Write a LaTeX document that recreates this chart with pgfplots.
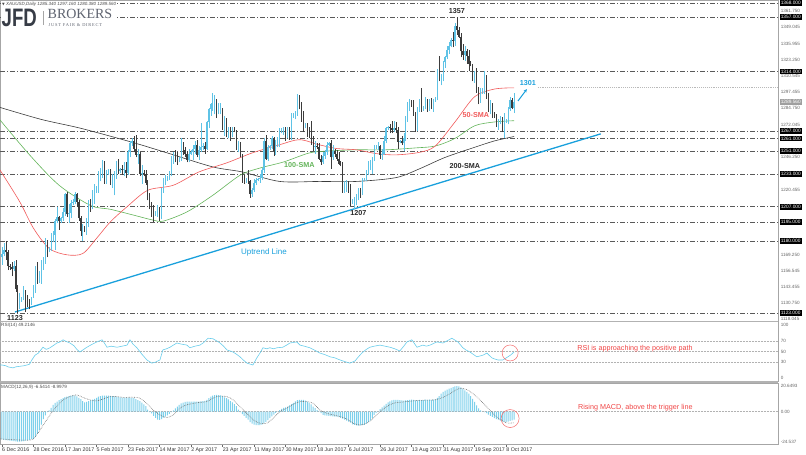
\documentclass[border=0pt]{standalone}
\usepackage{pgfplots}
\pgfplotsset{compat=1.18}
\usepackage{pgfplotstable}
\usepackage{fontspec}
\setmainfont{Liberation Sans}
\newfontfamily\serifb{Liberation Serif}
\newfontfamily\serifls[LetterSpace=18]{Liberation Serif}
\newfontfamily\dejavu{DejaVu Sans}
\usetikzlibrary{arrows.meta}
\definecolor{upc}{RGB}{95,195,230}
\definecolor{dnc}{RGB}{60,60,60}
\definecolor{trendc}{RGB}{25,160,220}
\definecolor{ma50}{RGB}{240,90,90}
\definecolor{ma100}{RGB}{100,180,90}
\definecolor{ma200}{RGB}{60,60,60}
\definecolor{annred}{RGB}{240,70,70}
\definecolor{rsic}{RGB}{105,205,235}
\definecolor{macdc}{RGB}{125,208,235}
\pgfplotsset{
  panel/.style={scale only axis, width=778pt, xmin=-1, xmax=394, clip=false,
    axis line style={draw=gray!70, line width=0.6pt}, xtick=\empty, ytick=\empty,
    anchor=south west},
  lvl/.style={draw=black!65, line width=0.5pt, dash pattern=on 5pt off 2pt on 1pt off 2pt, forget plot},
  gridd/.style={draw=gray!60, line width=0.5pt, densely dotted, forget plot},
}
\tikzset{
  rl/.style={anchor=west, font=\fontsize{4.6}{5}\selectfont, text=black!60, inner sep=0.6pt, xshift=2pt},
  hl/.style={anchor=west, font=\fontsize{4.8}{5}\selectfont, fill=black, text=white, inner sep=1.1pt, xshift=1.5pt},
  ann/.style={font=\bfseries\fontsize{7.2}{8}\selectfont},
}
\pgfplotstableread{
i O H L C
0 1167 1175 1161 1170
1 1170 1178 1168 1173
6 1158 1164 1156 1160
9 1129 1139 1126 1134
10 1134 1136 1132 1135
11 1135 1144 1133 1139
15 1130 1136 1129 1133
16 1138 1145 1135 1141
17 1141 1160 1139 1158
19 1151 1156 1147 1154
20 1154 1165 1146 1160
21 1160 1167 1157 1164
22 1164 1182 1162 1180
24 1172 1175 1171 1174
25 1174 1186 1172 1184
26 1184 1188 1179 1185
27 1185 1197 1173 1196
28 1196 1207 1194 1199
30 1196 1199 1194 1198
31 1198 1206 1196 1203
32 1203 1218 1200 1217
34 1201 1209 1194 1202
35 1202 1212 1198 1210
36 1210 1213 1208 1211
37 1211 1219 1209 1217
41 1188 1193 1180 1190
43 1189 1198 1185 1195
44 1195 1212 1191 1210
46 1208 1220 1205 1219
47 1219 1225 1209 1220
48 1220 1223 1218 1221
49 1221 1235 1218 1232
50 1232 1238 1227 1236
51 1236 1244 1230 1241
53 1228 1236 1225 1234
54 1234 1237 1232 1235
56 1226 1233 1222 1229
57 1229 1235 1216 1232
58 1232 1243 1229 1240
60 1235 1238 1234 1237
62 1236 1242 1231 1236.5
64 1234 1252 1232 1250
65 1250 1259 1246 1257
66 1257 1261 1255 1259
69 1248 1253 1241 1249
71 1233 1240 1225 1234
78 1201 1204 1200 1203
79 1203 1208 1199 1204
81 1199 1222 1197 1220
82 1220 1230 1218 1226
83 1226 1232 1224 1229
84 1229 1231 1227 1230
85 1230 1235 1228 1233
86 1233 1247 1231 1245
87 1245 1250 1241 1248
90 1243 1246 1242 1245
91 1245 1261 1243 1255
95 1244 1253 1242 1249
96 1249 1252 1248 1250
97 1250 1256 1244 1253
98 1253 1259 1249 1256
100 1248 1255 1244 1252
101 1252 1273 1250 1254
102 1254 1257 1252 1255
104 1253 1275 1252 1274
105 1274 1285 1269 1284
106 1284 1289 1279 1288
107 1288 1297 1283 1291
108 1291 1295 1280 1291.5
110 1283 1289 1280 1283.5
111 1283 1289 1280 1285
113 1272 1279 1263 1276
115 1264 1270 1261 1268
117 1264 1270 1262 1268
120 1255 1259 1250 1256
124 1227 1230 1226 1229
127 1217 1222 1215 1220
128 1220 1229 1219 1226
129 1226 1230 1224 1228
130 1228 1230 1227 1229
131 1229 1233 1226 1230
132 1230 1238 1228 1236
133 1236 1261 1234 1259
135 1245 1256 1243 1254
136 1254 1256 1252 1255
137 1255 1263 1253 1261
139 1251 1260 1248 1256
140 1256 1262 1254 1256.5
141 1256 1269 1254 1267
142 1267 1269 1265 1267.5
143 1267 1270 1264 1267.5
145 1262 1270 1261 1268
147 1262 1281 1260 1279
148 1279 1281 1277 1280
149 1280 1283 1276 1280.5
150 1280 1296 1279 1293
154 1271 1273 1269 1272
159 1254 1259 1249 1255
163 1242 1250 1241 1247
164 1247 1252 1245 1250
165 1250 1258 1248 1256
166 1256 1258 1255 1257
168 1246 1256 1244 1251
174 1219 1227 1218 1225
175 1225 1228 1219 1226
178 1210 1213 1209 1211
179 1211 1215 1205 1212
180 1212 1217 1208 1214
181 1214 1222 1212 1219
183 1218 1230 1216 1228
184 1228 1230 1227 1229
185 1229 1236 1227 1234
186 1234 1243 1232 1241
187 1241 1244 1236 1241.5
188 1241 1246 1233 1244
189 1244 1256 1243 1254
190 1254 1256 1253 1255
191 1255 1258 1252 1255.5
193 1248 1253 1244 1249
194 1249 1263 1248 1259
195 1259 1270 1257 1269
196 1269 1271 1268 1270
199 1268 1275 1266 1269
202 1258 1260 1257 1259
204 1257 1265 1251 1261
205 1261 1279 1259 1275
206 1275 1290 1274 1287
207 1287 1292 1283 1289
211 1268 1286 1267 1283
212 1283 1292 1282 1289
214 1284 1287 1283 1286
215 1286 1294 1284 1291
217 1284 1292 1283 1290
219 1287 1292 1282 1291
220 1291 1294 1290 1293
221 1293 1316 1291 1315
223 1309 1312 1303 1309.5
224 1309 1322 1306 1321
225 1321 1326 1317 1325
226 1325 1334 1324 1331
227 1331 1337 1328 1334
228 1334 1340 1333 1339
230 1338 1352 1334 1350
235 1327 1334 1322 1330
240 1309 1314 1305 1311
243 1291 1301 1289 1297
244 1297 1301 1296 1299
245 1299 1314 1296 1310
248 1283 1291 1280 1287
252 1271 1276 1268 1273
253 1273 1279 1272 1276
255 1269 1281 1261 1274
256 1274 1276 1273 1275
257 1275 1286 1272 1284
258 1284 1294 1283 1291
260 1285 1297 1281 1289.6
}\upt
\pgfplotstableread{
i O H L C
2 1173 1180 1165 1171
3 1171 1173 1157 1160
4 1160 1162 1157 1159
5 1159 1163 1152 1158
7 1160 1165 1140 1142
8 1142 1145 1123 1129
12 1139 1141 1124 1133
13 1133 1137 1128 1131
14 1131 1134 1126 1130
18 1158 1163 1146 1151
23 1180 1181 1167 1172
29 1199 1200 1189 1196
33 1217 1219 1199 1201
38 1217 1218 1207 1211
39 1211 1212 1196 1198
40 1198 1200 1184 1188
42 1190 1192 1187 1189
45 1210 1213 1203 1208
52 1241 1243 1225 1228
55 1235 1237 1224 1226
59 1240 1245 1233 1235
61 1237 1240 1232 1236
63 1236 1242 1230 1234
67 1259 1263 1250 1253
68 1253 1264 1246 1248
70 1249 1250 1231 1233
72 1234 1236 1231 1233
73 1233 1236 1224 1226
74 1226 1228 1212 1216
75 1216 1218 1205 1209
76 1209 1211 1199 1203
77 1203 1208 1195 1201
80 1204 1207 1196 1199
88 1248 1252 1242 1247
89 1247 1250 1240 1243
92 1255 1258 1248 1252
93 1252 1254 1246 1249
94 1249 1251 1242 1244
99 1256 1260 1246 1248
103 1255 1258 1249 1253
109 1291 1292 1277 1283
112 1285 1285 1268 1272
114 1276 1277 1262 1264
116 1268 1270 1259 1264
118 1268 1270 1266 1267
119 1267 1268 1252 1255
121 1256 1258 1246 1248
122 1248 1249 1226 1229
123 1229 1232 1225 1227
125 1229 1236 1225 1227
126 1227 1228 1214 1217
134 1259 1264 1244 1245
138 1261 1262 1247 1251
144 1267 1270 1259 1262
146 1268 1270 1260 1262
151 1293 1295 1284 1288
152 1288 1290 1274 1279
153 1279 1283 1266 1271
155 1272 1273 1262 1266
156 1266 1270 1261 1264
157 1264 1275 1256 1260
158 1260 1263 1251 1254
160 1255 1257 1253 1254
161 1254 1257 1244 1245
162 1245 1248 1240 1242
167 1257 1260 1237 1246
169 1251 1253 1246 1249
170 1249 1252 1243 1245
171 1245 1250 1240 1241
172 1241 1243 1239 1240
173 1240 1242 1218 1219
176 1226 1227 1218 1223
177 1223 1225 1207.5 1210
182 1219 1222 1214 1218
192 1255 1256 1245 1248
197 1270 1272 1265 1269
198 1269 1275 1265 1268
200 1269 1274 1265 1268
201 1268 1270 1253 1258
203 1259 1263 1256 1257
208 1289 1291 1286 1288
209 1288 1291 1279 1281
210 1281 1282 1266 1268
213 1289 1301 1282 1284
216 1291 1292 1282 1284
218 1290 1293 1284 1287
222 1315 1326 1306 1309
229 1339 1345 1333 1338
231 1350 1357 1343 1347
232 1347 1349 1340 1341
233 1341 1344 1325 1330
234 1330 1336 1323 1327
236 1330 1332 1320 1326
237 1326 1331 1314 1320
238 1320 1322 1318 1319
239 1319 1320 1306 1309
241 1311 1317 1297 1301
242 1301 1302 1288 1291
246 1310 1311 1292 1294
247 1294 1297 1282 1283
249 1287 1289 1277 1280
250 1280 1282 1277 1278
251 1278 1280 1270 1271
254 1276 1278 1266 1269
259 1291 1293 1284 1285
}\dnt
\begin{document}
\begin{tikzpicture}[x=1pt,y=1pt]
\useasboundingbox (0pt,0pt) rectangle (806pt,455pt);
% ================= MAIN PANEL =================
\begin{axis}[panel, at={(0pt,134pt)}, height=321pt, ymin=1116.7, ymax=1370.4]
\addplot[lvl] coordinates {(-1,1368) (394,1368)};
\addplot[lvl] coordinates {(-1,1357) (394,1357)};
\addplot[lvl] coordinates {(-1,1314) (394,1314)};
\addplot[lvl] coordinates {(-1,1267) (394,1267)};
\addplot[lvl] coordinates {(-1,1261) (394,1261)};
\addplot[lvl] coordinates {(-1,1251) (394,1251)};
\addplot[lvl] coordinates {(-1,1233) (394,1233)};
\addplot[lvl] coordinates {(-1,1207) (394,1207)};
\addplot[lvl] coordinates {(-1,1195) (394,1195)};
\addplot[lvl] coordinates {(-1,1180) (394,1180)};
\addplot[lvl] coordinates {(-1,1123) (394,1123)};
\addplot[draw=gray!55, line width=0.9pt, densely dotted] coordinates {(272,1301) (394,1301)};
% moving averages
\addplot[ma200, line width=0.6pt, smooth] coordinates {(-1,1285.5) (20,1276) (40,1269) (66,1258) (84,1249.5) (107,1238.5) (122,1234.5) (141,1227) (161,1227) (180,1227) (200,1230) (212,1237) (225,1246) (240,1254) (250,1259) (260,1262.5)};
\addplot[ma100, line width=0.6pt, smooth] coordinates {(-1,1275.6) (14,1248) (29,1224) (45,1208) (55,1205) (66.5,1200.5) (76.6,1196.5) (82,1195.7) (94,1203) (107,1216) (121,1232) (131,1237.6) (143,1242.4) (156,1249.5) (165,1251) (180,1252) (195,1252) (210,1253.5) (220,1255) (230,1261) (240,1271) (250,1274) (260,1275)};
\addplot[ma50, line width=0.6pt, smooth] coordinates {(-1,1236) (9,1211) (16,1190) (24,1174) (33,1169) (41,1170) (48,1182) (55,1195) (63.5,1207) (74,1220) (87,1224) (100,1234.5) (114,1241.6) (127,1249.5) (141,1256) (151,1260) (161,1256) (170,1253) (180,1252) (190,1249) (200,1248) (212,1250) (220,1255) (230,1274) (240,1294) (250,1300) (260,1301)};
% uptrend line
\addplot[trendc, line width=1.3pt] coordinates {(6.6,1123.8) (304,1264.6)};
% candles
\addplot[draw=upc, line width=0.5pt, quiver={u=0, v=\thisrow{H}-\thisrow{L}}] table[x=i, y=L] {\upt};
\addplot[draw=upc, line width=1.3pt, quiver={u=0, v=\thisrow{C}-\thisrow{O}}] table[x=i, y=O] {\upt};
\addplot[draw=dnc, line width=0.5pt, quiver={u=0, v=\thisrow{H}-\thisrow{L}}] table[x=i, y=L] {\dnt};
\addplot[draw=dnc, line width=1.3pt, quiver={u=0, v=\thisrow{O}-\thisrow{C}}] table[x=i, y=C] {\dnt};
% arrow to 1301
\addplot[-{Stealth[length=3.5pt,width=3.2pt]}, draw=trendc, line width=1pt] coordinates {(262,1290.6) (266.5,1300)};
% annotations
\node[ann, text=black!85] at (axis cs:231,1362) {1357};
\node[ann, text=black!85] at (axis cs:181,1202) {1207};
\node[ann, text=black!85] at (axis cs:6.6,1119) {1123};
\node[ann, text=trendc] at (axis cs:267,1305) {1301};
\node[ann, text=ma100] at (axis cs:151,1240) {100-SMA};
\node[ann, text=ma50] at (axis cs:240.6,1279.5) {50-SMA};
\node[ann, text=black!85] at (axis cs:235,1239.2) {200-SMA};
\node[font=\fontsize{8}{9}\selectfont, text=trendc] at (axis cs:133,1171.2) {Uptrend Line};
% right axis labels
\node[rl] at (axis cs:394,1361.75) {1361.750};
\node[rl] at (axis cs:394,1349.045) {1349.045};
\node[rl] at (axis cs:394,1335.955) {1335.955};
\node[rl] at (axis cs:394,1323.25) {1323.250};
\node[rl] at (axis cs:394,1310.545) {1310.545};
\node[rl] at (axis cs:394,1297.455) {1297.455};
\node[rl] at (axis cs:394,1284.75) {1284.750};
\node[rl] at (axis cs:394,1272.045) {1272.045};
\node[rl] at (axis cs:394,1246.25) {1246.250};
\node[rl] at (axis cs:394,1220.455) {1220.455};
\node[rl] at (axis cs:394,1169.25) {1169.250};
\node[rl] at (axis cs:394,1156.545) {1156.545};
\node[rl] at (axis cs:394,1143.455) {1143.455};
\node[rl] at (axis cs:394,1130.75) {1130.750};
\node[rl] at (axis cs:394,1118.045) {1118.045};
\node[hl] at (axis cs:394,1368) {1368.000};
\node[hl] at (axis cs:394,1357) {1357.000};
\node[hl] at (axis cs:394,1314) {1314.000};
\node[hl] at (axis cs:394,1267) {1267.000};
\node[hl] at (axis cs:394,1261) {1261.000};
\node[hl] at (axis cs:394,1251) {1251.000};
\node[hl] at (axis cs:394,1233) {1233.000};
\node[hl] at (axis cs:394,1207) {1207.000};
\node[hl] at (axis cs:394,1195) {1195.000};
\node[hl] at (axis cs:394,1180) {1180.000};
\node[hl] at (axis cs:394,1123) {1123.000};
\node[hl, fill=gray!75] at (axis cs:394,1289.56) {1289.560};
\end{axis}
% ================= RSI PANEL =================
\begin{axis}[panel, at={(0pt,74pt)}, height=60pt, ymin=-5.7, ymax=107.5]
\addplot[gridd] coordinates {(-1,70) (394,70)};
\addplot[gridd] coordinates {(-1,50) (394,50)};
\addplot[gridd] coordinates {(-1,30) (394,30)};
\addplot[rsic, line width=0.6pt] coordinates {(-1,24.5) (0,24.5) (2,23) (3,21) (5.6,19) (7,21) (9,22) (11,23) (12.7,24.5) (14,26) (15,33) (16.8,43) (18.5,47) (20.8,58) (22.5,54) (24.4,57) (26,61) (27.9,66) (29.5,68) (31,72) (32.5,69) (34.5,66) (36.5,61) (38,54) (39.6,49) (41.5,54) (43.1,58) (45.5,63) (48.2,68) (50.8,72) (52,66) (53.3,58) (55.5,60) (58.4,58) (61,60) (63.5,62) (65,72) (66.5,64) (68.5,57) (71,45) (73.6,34) (76.1,28) (78,30) (80.2,34) (81.7,53) (83.5,55) (85.3,58) (87,62) (88.8,66) (91,64) (93.9,62) (95.4,57) (98,60) (100.5,62) (102.5,67) (104.6,75) (107.1,74) (109,70) (110.7,66) (112.5,60) (114.2,53) (117.3,49) (119,45) (120.8,40) (122.5,34) (124.4,28) (127.4,24.5) (129.4,38) (131,47) (132.5,57) (134.5,55) (136,57) (138,55) (139.6,57) (142.6,58) (144.5,62) (146.2,66) (149.7,68) (151.3,62) (153.5,60) (156.3,57) (159,52) (161.4,47) (164,44) (166.5,40) (169,38) (171.6,34) (174,31) (176.6,28) (179.2,32) (181,40) (182.7,47) (185,54) (186.8,58) (189,60) (191.9,62) (194.5,60) (197,58) (199.5,55) (202,51) (204,60) (205.6,68) (208.1,72) (210.7,58) (213.7,62) (215.5,60) (217.3,62) (220.8,68) (223.9,66) (226,70) (228.4,75) (231.5,68) (234,57) (235.5,53) (237.6,49) (239.5,44) (241.1,40) (244.2,43) (246.2,47) (248.7,38) (250,36) (251.8,34) (254.3,34) (256.9,40) (258.5,44) (260,49.2)};
\node[anchor=north west, font=\fontsize{4.6}{5}\selectfont, text=black!70, inner sep=1pt] at (rel axis cs:0,0.98) {RSI(14) 49.2146};
\node[rl] at (axis cs:394,100) {100};
\node[rl] at (axis cs:394,70) {70};
\node[rl] at (axis cs:394,50) {50};
\node[rl] at (axis cs:394,30) {30};
\node[rl] at (axis cs:394,0) {0};
\draw[annred!80, line width=0.5pt] (axis cs:258,47.2) circle[radius=8pt];
\node[anchor=west, font=\fontsize{7.2}{8}\selectfont, text=annred, inner sep=0pt] at (axis cs:292,54.7) {RSI is approaching the positive path};
\end{axis}
% ================= MACD PANEL =================
\begin{axis}[panel, at={(0pt,11pt)}, height=61pt, ymin=-26.15, ymax=23.07,
  xtick={0,16,32,48,64,80,96,112,128,144,160,176,192,208,224,240,256},
  xticklabels={6 Dec 2016, 28 Dec 2016, 17 Jan 2017, 5 Feb 2017, 23 Feb 2017, 14 Mar 2017, 2 Apr 2017, 23 Apr 2017, 11 May 2017, 30 May 2017, 18 Jun 2017, 6 Jul 2017, 26 Jul 2017, 13 Aug 2017, 31 Aug 2017, 19 Sep 2017, 8 Oct 2017},
  xtick pos=left, tick align=outside, major tick length=3pt,
  tick style={draw=black!60, line width=0.4pt},
  xticklabel style={anchor=north west, font=\fontsize{5.3}{6}\selectfont, text=black!80, inner sep=0.5pt, xshift=-0.5pt, yshift=-0.3pt}]
\addplot[gridd] coordinates {(-1,0) (394,0)};
\addplot[ybar, bar width=1pt, fill=macdc, draw=none] coordinates {(0,-22.5) (1,-22.8) (2,-23) (3,-23.2) (4,-23.5) (5,-23.7) (6,-23.8) (7,-24) (8,-24.2) (9,-24.3) (10,-24) (11,-23.8) (12,-23.5) (13,-23.2) (14,-22.8) (15,-22.3) (16,-22) (17,-20.5) (18,-18) (19,-15) (20,-10.5) (21,-6) (22,-3) (23,-0.5) (24,1) (25,3) (26,5.4) (27,7) (28,8) (29,9.2) (30,10) (31,10.8) (32,11.7) (33,12.1) (34,12.5) (35,12.9) (36,13) (37,12.9) (38,12.2) (39,11) (40,10) (41,8.5) (42,7.5) (43,7.8) (44,8.4) (45,9) (46,9.7) (47,10.2) (48,11) (49,12) (50,12.5) (51,12.8) (52,12.9) (53,12.9) (54,12.9) (55,12.7) (56,12.4) (57,12.2) (58,12) (59,11.7) (60,11.5) (61,11.3) (62,11.3) (63,11.3) (64,11.3) (65,11.2) (66,11) (67,10.8) (68,10) (69,9.2) (70,8.4) (71,7.2) (72,5.8) (73,4.5) (74,1.5) (75,-0.5) (76,-1.5) (77,-3.5) (78,-5) (79,-6.5) (80,-6.7) (81,-6) (82,-4.8) (83,-4) (84,-3) (85,-1.8) (86,-0.5) (87,1) (88,2.5) (89,4) (90,5.5) (91,6.7) (92,7.2) (93,7.8) (94,8) (95,8) (96,8) (97,8) (98,8) (99,8) (100,8.1) (101,8.2) (102,8.4) (103,8.6) (104,9.5) (105,10.8) (106,12) (107,12.8) (108,13.3) (109,13.5) (110,13.3) (111,13) (112,12.4) (113,11.5) (114,10.8) (115,9.8) (116,8.5) (117,7.5) (118,6) (119,4.5) (120,1.5) (121,-0.5) (122,-2) (123,-3.5) (124,-5) (125,-6.5) (126,-8.5) (127,-9.8) (128,-10.5) (129,-11) (130,-11) (131,-10.9) (132,-10.5) (133,-9.5) (134,-8.2) (135,-6.8) (136,-5.2) (137,-3.8) (138,-2.5) (139,-1) (140,0.2) (141,1.2) (142,2.2) (143,3) (144,3.5) (145,4) (146,5) (147,6) (148,7) (149,8.2) (150,9.2) (151,9.4) (152,9.5) (153,9.4) (154,8.8) (155,8) (156,7) (157,5.8) (158,4) (159,2.8) (160,1.2) (161,0.2) (162,-1.2) (163,-2.7) (164,-3) (165,-3.2) (166,-3.4) (167,-3.6) (168,-3.8) (169,-4) (170,-4) (171,-4.5) (172,-5) (173,-5.6) (174,-6.5) (175,-7.3) (176,-8) (177,-9) (178,-10.3) (179,-10.8) (180,-11.1) (181,-11.3) (182,-11.2) (183,-11) (184,-10.8) (185,-9.8) (186,-8.5) (187,-7) (188,-5) (189,-2.7) (190,-1) (191,0.2) (192,2) (193,3.4) (194,4.8) (195,6.2) (196,7.5) (197,8.2) (198,9) (199,9.4) (200,9.4) (201,9.4) (202,9.2) (203,9) (204,8.8) (205,9) (206,9.3) (207,9.5) (208,9.6) (209,9.5) (210,9) (211,9) (212,9.5) (213,9.3) (214,9.3) (215,9.6) (216,9.4) (217,9.6) (218,9.5) (219,9.6) (220,9.8) (221,11) (222,12.5) (223,14.5) (224,16) (225,17) (226,17.8) (227,18.5) (228,19.2) (229,19.8) (230,20.3) (231,20.6) (232,20.3) (233,19.5) (234,18.5) (235,17.2) (236,16) (237,14.5) (238,12.5) (239,10.2) (240,7.8) (241,5) (242,2.5) (243,1) (244,0) (245,-0.5) (246,-1.2) (247,-2.5) (248,-3.5) (249,-4.3) (250,-5.2) (251,-6) (252,-6.5) (253,-7.2) (254,-7.8) (255,-8.2) (256,-8.3) (257,-8) (258,-7.5) (259,-7) (260,-6.5)};
\addplot[draw=black!60, line width=0.6pt, densely dotted, smooth] coordinates {(-1,-22) (14.2,-23) (17.6,-18.8) (21,-10.8) (24.4,-2.7) (27.7,4) (31.1,9.4) (34.5,12.1) (37.9,13.5) (41.3,11.3) (44.7,9.4) (48,8.6) (51.4,10.2) (54.8,12.1) (58.2,12.1) (61.6,11.5) (66.7,11.6) (70.1,10.8) (73.4,6.7) (76.8,1.3) (80.2,-2.7) (83.6,-4.8) (87,-2.7) (90.3,2.7) (93.7,5.4) (100.5,7.5) (103.9,8) (109,12.1) (114.1,12.1) (117.4,9.4) (120.8,4) (124.2,-1.3) (127.6,-6.7) (131,-9.4) (134.3,-9.4) (137.7,-5.4) (141.1,0) (144.5,2.7) (147.9,5.9) (151.3,8) (154.7,8) (158,6.7) (161.4,1.3) (164.8,-1.3) (168.2,-2.7) (171.6,-4) (175,-5.9) (178.3,-9.4) (181.7,-10.8) (185.1,-9.4) (188.5,-5.4) (191.9,0) (195.3,4) (198.7,6.7) (202,7.5) (208,8.5) (212,9) (216,9.3) (220,9.5) (224,11.5) (228,15) (232,18.5) (236,17.8) (241,12) (246,4) (251,-4) (256,-9) (260,-9)};
\node[anchor=north west, font=\fontsize{4.6}{5}\selectfont, text=black!70, inner sep=1pt] at (rel axis cs:0,0.98) {MACD(12,26,9) -6.5414 -8.9979};
\node[rl] at (axis cs:394,20.65) {20.6493};
\node[rl] at (axis cs:394,0) {0.00};
\node[rl] at (axis cs:394,-24.54) {-24.537};
\draw[annred!80, line width=0.5pt] (axis cs:258,-5.6) circle[radius=9pt];
\node[anchor=west, font=\fontsize{7.2}{8}\selectfont, text=annred, inner sep=0pt] at (axis cs:292.4,3.2) {Rising MACD, above the trigger line};
\end{axis}
% separators
\draw[gray!60, line width=1.6pt] (0pt,133.6pt) -- (778pt,133.6pt);
\draw[gray!60, line width=1.6pt] (0pt,73pt) -- (778pt,73pt);
% header + logo
\fill[white] (0.6pt,427pt) rectangle (117pt,454.4pt);
\node[anchor=west, inner sep=0pt, font=\fontsize{4.5}{5}\selectfont\itshape, text=black!70] at (2pt,451pt) {{\dejavu\fontsize{3.5}{4}\selectfont ▼} XAUUSD,Daily  1285.340 1297.160 1280.380 1289.560};
\node[anchor=base west, inner sep=0pt, text={rgb,255:red,55;green,60;blue,70}] at (1.5pt,428pt) {\scalebox{0.98}[1.33]{\fontsize{19}{19}\selectfont\bfseries JFD}};
\draw[gray!70, line width=0.5pt] (43pt,430pt) -- (43pt,444pt);
\node[anchor=base west, inner sep=0pt, text={rgb,255:red,95;green,100;blue,112}] at (47.5pt,436.3pt) {\serifb\fontsize{14}{14}\selectfont BROKERS};
\node[anchor=base west, inner sep=0pt, text={rgb,255:red,95;green,100;blue,112}] at (48.5pt,428.8pt) {\serifls\fontsize{4.4}{4.4}\selectfont JUST FAIR \& DIRECT};
\end{tikzpicture}
\end{document}
